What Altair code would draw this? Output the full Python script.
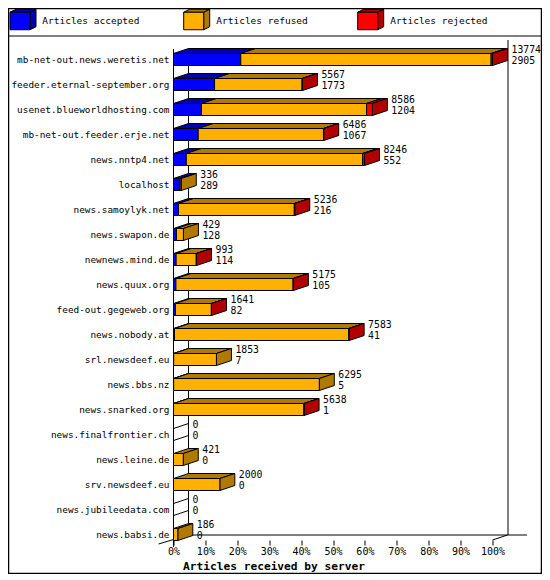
import altair as alt
import pandas as pd

# ---------------- data ----------------
servers = ["mb-net-out.news.weretis.net", "feeder.eternal-september.org",
           "usenet.blueworldhosting.com", "mb-net-out.feeder.erje.net",
           "news.nntp4.net", "localhost", "news.samoylyk.net", "news.swapon.de",
           "newnews.mind.de", "news.quux.org", "feed-out.gegeweb.org",
           "news.nobody.at", "srl.newsdeef.eu", "news.bbs.nz", "news.snarked.org",
           "news.finalfrontier.ch", "news.leine.de", "srv.newsdeef.eu",
           "news.jubileedata.com", "news.babsi.de"]
total = [13774, 5567, 8586, 6486, 8246, 336, 5236, 429, 993, 5175,
         1641, 7583, 1853, 6295, 5638, 0, 421, 2000, 0, 186]
accepted = [2905, 1773, 1204, 1067, 552, 289, 216, 128, 114, 105,
            82, 41, 7, 5, 1, 0, 0, 0, 0, 0]
refused = [10809, 3779, 7132, 5409, 7614, 47, 5000, 301, 869, 5060,
           1554, 7532, 1846, 6290, 5632, 0, 421, 2000, 0, 186]
rejected = [60, 15, 250, 10, 80, 0, 20, 0, 10, 10,
            5, 10, 0, 0, 5, 0, 0, 0, 0, 0]

series_names = ["Articles accepted", "Articles refused", "Articles rejected"]
front_colors = ["#0000FF", "#FFB000", "#FF0000"]
dark_colors = ["#0000B0", "#B07900", "#B00000"]
tick_values = [0, 10, 20, 30, 40, 50, 60, 70, 80, 90, 100]
axis_title = "Articles received by server"

# ---------------- geometry / style ----------------
FONT = "DejaVu Sans Mono"
W, H = 319, 500
PAD_L, PAD_T = 165.5, 39
TOTAL_W, TOTAL_H = 534, 566
N = len(servers)
ROW = H / N                 # px per row
DX_PX, DY_PX = 15, 5        # 3D depth in px
DEPTH_X = DX_PX / W * 100   # in percent units
DEPTH_Y = DY_PX / ROW       # in row units
HALF = 6 / ROW
scale_max = max(total)

xs = alt.Scale(domain=[0, 100], nice=False, zero=False)
ys = alt.Scale(domain=[0, N], reverse=True, nice=False, zero=False)
xa = alt.Axis(values=tick_values, labelExpr="datum.value + '%'", domain=False,
              grid=False, ticks=True, tickSize=5, tickColor="black", tickWidth=1,
              labelFont=FONT, labelFontSize=10, labelColor="black", labelPadding=1,
              labelFlush=False, labelOverlap=False, offset=-7, title="")

front, top, side, diag, labels = [], [], [], [], []
for i, name in enumerate(servers):
    c = i + 0.5
    y0, y1 = c - HALF, c + HALF
    start = 0
    last = None
    for k, vals in enumerate([accepted, refused, rejected]):
        v = vals[i]
        if v <= 0:
            continue
        x0 = start / scale_max * 100
        x1 = (start + v) / scale_max * 100
        front.append(dict(x=x0, x2=x1, y=y0, y2=y1, color=front_colors[k]))
        sid = f"{i}-{k}"
        top.append(dict(id=sid, y=y0, x=x0, x2=x1, color=dark_colors[k]))
        top.append(dict(id=sid, y=y0 - DEPTH_Y, x=x0 + DEPTH_X, x2=x1 + DEPTH_X,
                        color=dark_colors[k]))
        start += v
        last = k
    end = start / scale_max * 100
    if last is not None:
        side.append(dict(id=str(i), x=end, y=y0, y2=y1, color=dark_colors[last]))
        side.append(dict(id=str(i), x=end + DEPTH_X, y=y0 - DEPTH_Y, y2=y1 - DEPTH_Y,
                         color=dark_colors[last]))
    else:
        diag.append(dict(x=0.0, y=y0))
        diag.append(dict(x=0.0, y=y1))
    labels.append(dict(name=name, x=end, y=c, t1=str(total[i]), t2=str(accepted[i])))

front_df = pd.DataFrame(front)
top_df = pd.DataFrame(top)
side_df = pd.DataFrame(side)
diag_df = pd.DataFrame(diag)
lab_df = pd.DataFrame(labels)
one = pd.DataFrame({"a": [0]})

layers = []

# frame lines (pixel styling)
def rule(x, x2, y, y2, sw=1.0):
    return alt.Chart(one).mark_rule(color="black", strokeWidth=sw).encode(
        x=alt.value(x), x2=alt.value(x2), y=alt.value(y), y2=alt.value(y2))

fl, fr = -PAD_L + 0.5, TOTAL_W - PAD_L - 0.5
ft, fb = -PAD_T + 0.5, TOTAL_H - PAD_T - 0.5
layers.append(alt.Chart(one).mark_rect(fillOpacity=0, stroke="black", strokeWidth=1.5).encode(
    x=alt.value(fl), x2=alt.value(fr), y=alt.value(ft), y2=alt.value(fb)))
layers.append(rule(fl, fr, -11, -11))                      # divider under legend
layers.append(rule(0, 0, 2, 500))                          # front left axis
layers.append(rule(DX_PX, DX_PX, 2, 488))                  # back left wall
layers.append(rule(W + DX_PX + 0.5, W + DX_PX + 0.5, -7, 488))   # back right wall
layers.append(rule(DX_PX, W + 34.5, 488, 488))             # back floor
layers.append(rule(W, W + DX_PX, 493, 488))                # 100% diagonal
layers.append(rule(-DX_PX, 0, 497, 492.5))                 # bottom-left diagonal

# legend
P_FRONT = "M-1,-0.875L1,-0.875L1,0.875L-1,0.875Z"
P_TOP = "M-1,-0.875L1,-0.875L1.6,-1.175L-0.4,-1.175Z"
P_SIDE = "M1,-0.875L1.6,-1.175L1.6,0.575L1,0.875Z"
legend_cx = [-153.5, 20.2, 194.2]
legend_tx = [-131.2, 42.8, 216.8]
for k in range(3):
    for path, col in ((P_TOP, dark_colors[k]), (P_SIDE, dark_colors[k]), (P_FRONT, front_colors[k])):
        layers.append(alt.Chart(one).mark_point(
            shape=path, size=400, filled=True, fill=col, stroke="black",
            strokeWidth=1, opacity=1).encode(
            x=alt.value(legend_cx[k]), y=alt.value(-26)))
    layers.append(alt.Chart(one).mark_text(
        text=series_names[k], align="left", baseline="middle", font=FONT,
        fontSize=9.5, color="black").encode(
        x=alt.value(legend_tx[k]), y=alt.value(-26)))

# top faces
layers.append(alt.Chart(top_df).mark_area(
    orient="horizontal", stroke="black", strokeWidth=1, opacity=1).encode(
    y=alt.Y("y:Q", scale=ys, axis=None),
    x=alt.X("x:Q", scale=xs, axis=xa),
    x2="x2:Q",
    detail="id:N",
    color=alt.Color("color:N", scale=None)))

# side faces
layers.append(alt.Chart(side_df).mark_area(
    orient="vertical", stroke="black", strokeWidth=1, opacity=1).encode(
    x=alt.X("x:Q", scale=xs, axis=xa),
    y=alt.Y("y:Q", scale=ys, axis=None),
    y2="y2:Q",
    detail="id:N",
    color=alt.Color("color:N", scale=None)))

# front faces
layers.append(alt.Chart(front_df).mark_rect(
    stroke="black", strokeWidth=1, opacity=1).encode(
    x=alt.X("x:Q", scale=xs, axis=xa),
    x2="x2:Q",
    y=alt.Y("y:Q", scale=ys, axis=None),
    y2="y2:Q",
    color=alt.Color("color:N", scale=None)))

# empty-bar diagonals
if len(diag_df):
    layers.append(alt.Chart(diag_df).mark_rule(
        color="black", strokeWidth=1, x2Offset=DX_PX, y2Offset=-DY_PX).encode(
        x=alt.X("x:Q", scale=xs, axis=xa), x2="x:Q",
        y=alt.Y("y:Q", scale=ys, axis=None), y2="y:Q"))

# server names
layers.append(alt.Chart(lab_df).mark_text(
    align="right", baseline="middle", font=FONT, fontSize=9.4, color="black").encode(
    x=alt.value(-4), y=alt.Y("y:Q", scale=ys, axis=None), text="name:N"))

# value labels
layers.append(alt.Chart(lab_df).mark_text(
    align="left", baseline="middle", font=FONT, fontSize=9.8, color="black",
    dx=DX_PX + 4, dy=-9.5).encode(
    x=alt.X("x:Q", scale=xs, axis=xa), y=alt.Y("y:Q", scale=ys, axis=None), text="t1:N"))
layers.append(alt.Chart(lab_df).mark_text(
    align="left", baseline="middle", font=FONT, fontSize=9.8, color="black",
    dx=DX_PX + 4, dy=1).encode(
    x=alt.X("x:Q", scale=xs, axis=xa), y=alt.Y("y:Q", scale=ys, axis=None), text="t2:N"))

# axis title
layers.append(alt.Chart(one).mark_text(
    text=axis_title, align="center", baseline="middle", font=FONT,
    fontSize=11.2, fontWeight="bold", color="black").encode(
    x=alt.value(100.5), y=alt.value(519.5)))

chart = alt.layer(*layers).properties(
    width=W, height=H,
    padding={"left": PAD_L, "top": PAD_T, "right": TOTAL_W - PAD_L - W,
             "bottom": TOTAL_H - PAD_T - H},
    autosize=alt.AutoSizeParams(type="none"),
    background="white",
).configure_view(strokeWidth=0)

chart.save("out.html", embed_options={"renderer": "svg", "actions": False})
